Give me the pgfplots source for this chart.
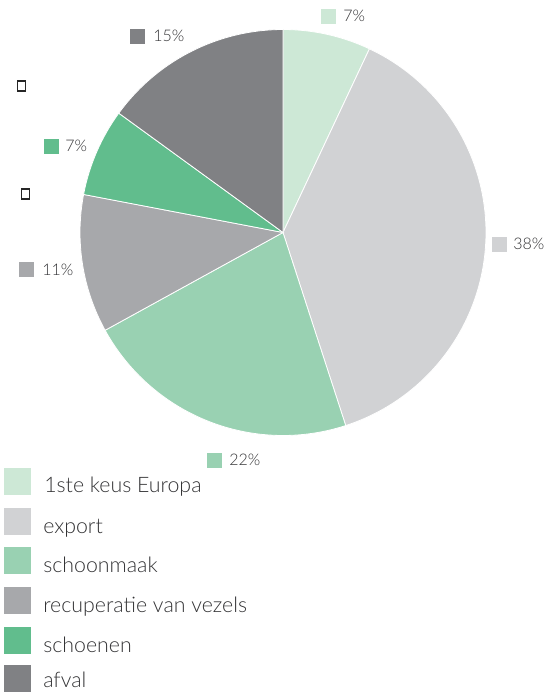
\documentclass[border=0pt]{standalone}
\usepackage{pgfplots}
\pgfplotsset{compat=1.18}
\usepackage{fontspec}
\setmainfont{Lato Light}
\definecolor{cA}{HTML}{CDE8D6}
\definecolor{cB}{HTML}{D1D2D4}
\definecolor{cC}{HTML}{99D1B2}
\definecolor{cD}{HTML}{A7A8AB}
\definecolor{cE}{HTML}{61BD8D}
\definecolor{cF}{HTML}{808184}
\definecolor{txt}{HTML}{333335}
% pie centre (px, y up) and radius
\def\cx{283}
\def\cy{460.5}
\def\rr{203}
\pgfplotsset{slice/.style={draw=white, line width=0.6pt, variable=\t, forget plot},
  lab/.style={forget plot, only marks, mark=square*, mark size=5.25pt, color=#1, mark options={fill=#1, draw=#1}},
  sw/.style={forget plot, only marks, mark=square*, mark size=9.75pt, color=#1, mark options={fill=#1, draw=#1}}}
\begin{document}
\begin{tikzpicture}
\begin{axis}[name=ax,
  width=407.25pt, height=519.75pt, scale only axis,
  xmin=0, xmax=543, ymin=0, ymax=693,
  hide axis, clip=false,
]
% slices: cumulative shares 0,7,45,67,78,85,100 (percent), clockwise from top
\addplot[slice, fill=cA, domain={90-3.6*7}:{90-3.6*0}, samples=40]
  ({\cx+\rr*cos(\t)}, {\cy+\rr*sin(\t)}) -- (axis cs:\cx,\cy) -- cycle;
\addplot[slice, fill=cB, domain={90-3.6*45}:{90-3.6*7}, samples=120]
  ({\cx+\rr*cos(\t)}, {\cy+\rr*sin(\t)}) -- (axis cs:\cx,\cy) -- cycle;
\addplot[slice, fill=cC, domain={90-3.6*67}:{90-3.6*45}, samples=80]
  ({\cx+\rr*cos(\t)}, {\cy+\rr*sin(\t)}) -- (axis cs:\cx,\cy) -- cycle;
\addplot[slice, fill=cD, domain={90-3.6*78}:{90-3.6*67}, samples=50]
  ({\cx+\rr*cos(\t)}, {\cy+\rr*sin(\t)}) -- (axis cs:\cx,\cy) -- cycle;
\addplot[slice, fill=cE, domain={90-3.6*85}:{90-3.6*78}, samples=40]
  ({\cx+\rr*cos(\t)}, {\cy+\rr*sin(\t)}) -- (axis cs:\cx,\cy) -- cycle;
\addplot[slice, fill=cF, domain={90-3.6*100}:{90-3.6*85}, samples=60]
  ({\cx+\rr*cos(\t)}, {\cy+\rr*sin(\t)}) -- (axis cs:\cx,\cy) -- cycle;
% label markers
\addplot[lab=cA] coordinates {(328,677)};
\addplot[lab=cB] coordinates {(499,449)};
\addplot[lab=cC] coordinates {(214,233)};
\addplot[lab=cD] coordinates {(26,423.5)};
\addplot[lab=cE] coordinates {(51,547)};
\addplot[lab=cF] coordinates {(137,657)};
\begin{scope}[every node/.style={anchor=west, inner sep=0pt, text=txt, font=\fontsize{12}{14}\selectfont}]
\node at (axis cs:343,677) {7\%};
\node at (axis cs:513,449) {38\%};
\node at (axis cs:229,233) {22\%};
\node at (axis cs:42,423.5) {11\%};
\node at (axis cs:65,547) {7\%};
\node at (axis cs:153,657) {15\%};
\end{scope}
% missing-glyph boxes
\draw[black!85, line width=1.3pt] (axis cs:17.5,602) rectangle (axis cs:25.5,612);
\draw[black!85, line width=1.3pt] (axis cs:21.5,494) rectangle (axis cs:29.5,504);
% legend
\addplot[sw=cA] coordinates {(17,212)};
\addplot[sw=cB] coordinates {(17,172)};
\addplot[sw=cC] coordinates {(17,133)};
\addplot[sw=cD] coordinates {(17,93)};
\addplot[sw=cE] coordinates {(17,53)};
\addplot[sw=cF] coordinates {(17,15)};
\begin{scope}[every node/.style={anchor=base west, inner sep=0pt, text=txt, font=\fontsize{16}{18}\selectfont}]
\node at (axis cs:44,200) {1ste keus Europa};
\node at (axis cs:43,160) {export};
\node at (axis cs:43,121) {schoonmaak};
\node at (axis cs:43,81) {recuperatie van vezels};
\node at (axis cs:43,41) {schoenen};
\node at (axis cs:43,6) {afval};
\end{scope}
\end{axis}
\pgfresetboundingbox
\path (ax.south west) rectangle (ax.north east);
\end{tikzpicture}
\end{document}
